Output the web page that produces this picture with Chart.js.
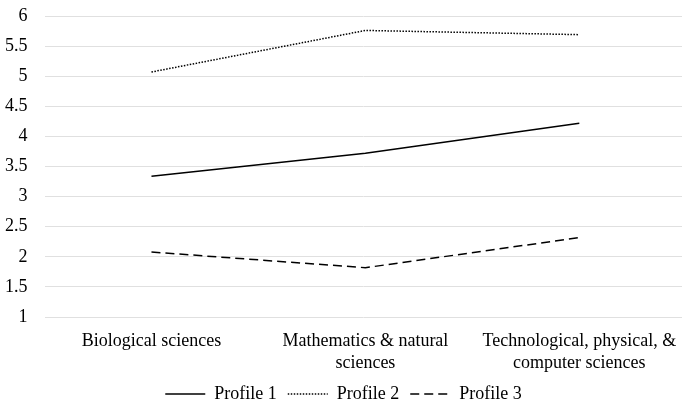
<!DOCTYPE html>
<html>
<head>
<meta charset="utf-8">
<script src="https://cdn.jsdelivr.net/npm/chart.js@4/dist/chart.umd.min.js"></script>
<style>
  html, body { margin: 0; padding: 0; background: #fff; }
  #wrap { width: 682px; height: 408px; }
</style>
</head>
<body>
<div id="wrap"><canvas id="chart"></canvas></div>
<script>
'use strict';

var categories = [
    'Biological sciences',
    ['Mathematics & natural', 'sciences'],
    ['Technological, physical, &', 'computer sciences']
];
var profile1 = [3.34, 3.72, 4.22];
var profile2 = [5.07, 5.76, 5.69];
var profile3 = [2.08, 1.82, 2.32];
var yTicks = [1, 1.5, 2, 2.5, 3, 3.5, 4, 4.5, 5, 5.5, 6];

var toPoints = function(values) {
    return values.map(function(v, i) { return { x: i, y: v }; });
};

Chart.defaults.font.family = '"Liberation Serif", "Times New Roman", serif';
Chart.defaults.font.size = 18;
Chart.defaults.color = '#000';

var ctx = document.getElementById('chart').getContext('2d');
var chart = new Chart(ctx, {
    type: 'line',
    data: {
        datasets: [
            {
                label: 'Profile 1',
                data: toPoints(profile1),
                borderColor: '#000',
                backgroundColor: '#000',
                borderWidth: 1.5,
                pointRadius: 0,
                fill: false
            },
            {
                label: 'Profile 2',
                data: toPoints(profile2),
                borderColor: '#000',
                backgroundColor: '#000',
                borderWidth: 1.5,
                borderDash: [1.5, 1.5],
                pointRadius: 0,
                fill: false
            },
            {
                label: 'Profile 3',
                data: toPoints(profile3),
                borderColor: '#000',
                backgroundColor: '#000',
                borderWidth: 1.5,
                borderDash: [9, 5],
                pointRadius: 0,
                fill: false
            }
        ]
    },
    options: {
        responsive: true,
        maintainAspectRatio: false,
        animation: false,
        layout: { padding: { left: 5, top: 16, right: 0, bottom: -5 } },
        scales: {
            x: {
                type: 'linear',
                min: -0.5,
                max: 2.48,
                afterBuildTicks: function(scale) {
                    scale.ticks = categories.map(function(c, i) { return { value: i }; });
                },
                ticks: {
                    padding: 0,
                    maxRotation: 0,
                    autoSkip: false,
                    font: { lineHeight: 1.22 },
                    callback: function(value) { return categories[value]; }
                },
                // invisible tick marks just set the gap above the labels
                grid: { display: false, drawTicks: true, tickLength: 13 },
                border: { display: false }
            },
            y: {
                min: 1,
                max: 6,
                afterBuildTicks: function(scale) {
                    scale.ticks = yTicks.map(function(v) { return { value: v }; });
                },
                ticks: {
                    padding: 0,
                    callback: function(value) { return String(value); }
                },
                grid: {
                    color: '#e0e0e0',
                    lineWidth: 1,
                    drawTicks: true,
                    tickLength: 17,
                    tickColor: 'rgba(0,0,0,0)'
                },
                border: { display: false }
            }
        },
        plugins: {
            tooltip: { enabled: false },
            legend: {
                position: 'bottom',
                labels: {
                    usePointStyle: true,
                    pointStyle: 'line',
                    pointStyleWidth: 40,
                    padding: 11,
                    color: '#000',
                    generateLabels: function(chart) {
                        var items = Chart.defaults.plugins.legend.labels.generateLabels(chart);
                        items.forEach(function(item) {
                            var ds = chart.data.datasets[item.datasetIndex];
                            item.lineDash = ds.borderDash || [];
                            item.lineWidth = ds.borderWidth;
                            item.strokeStyle = ds.borderColor;
                        });
                        return items;
                    }
                }
            }
        }
    }
});
</script>
</body>
</html>
